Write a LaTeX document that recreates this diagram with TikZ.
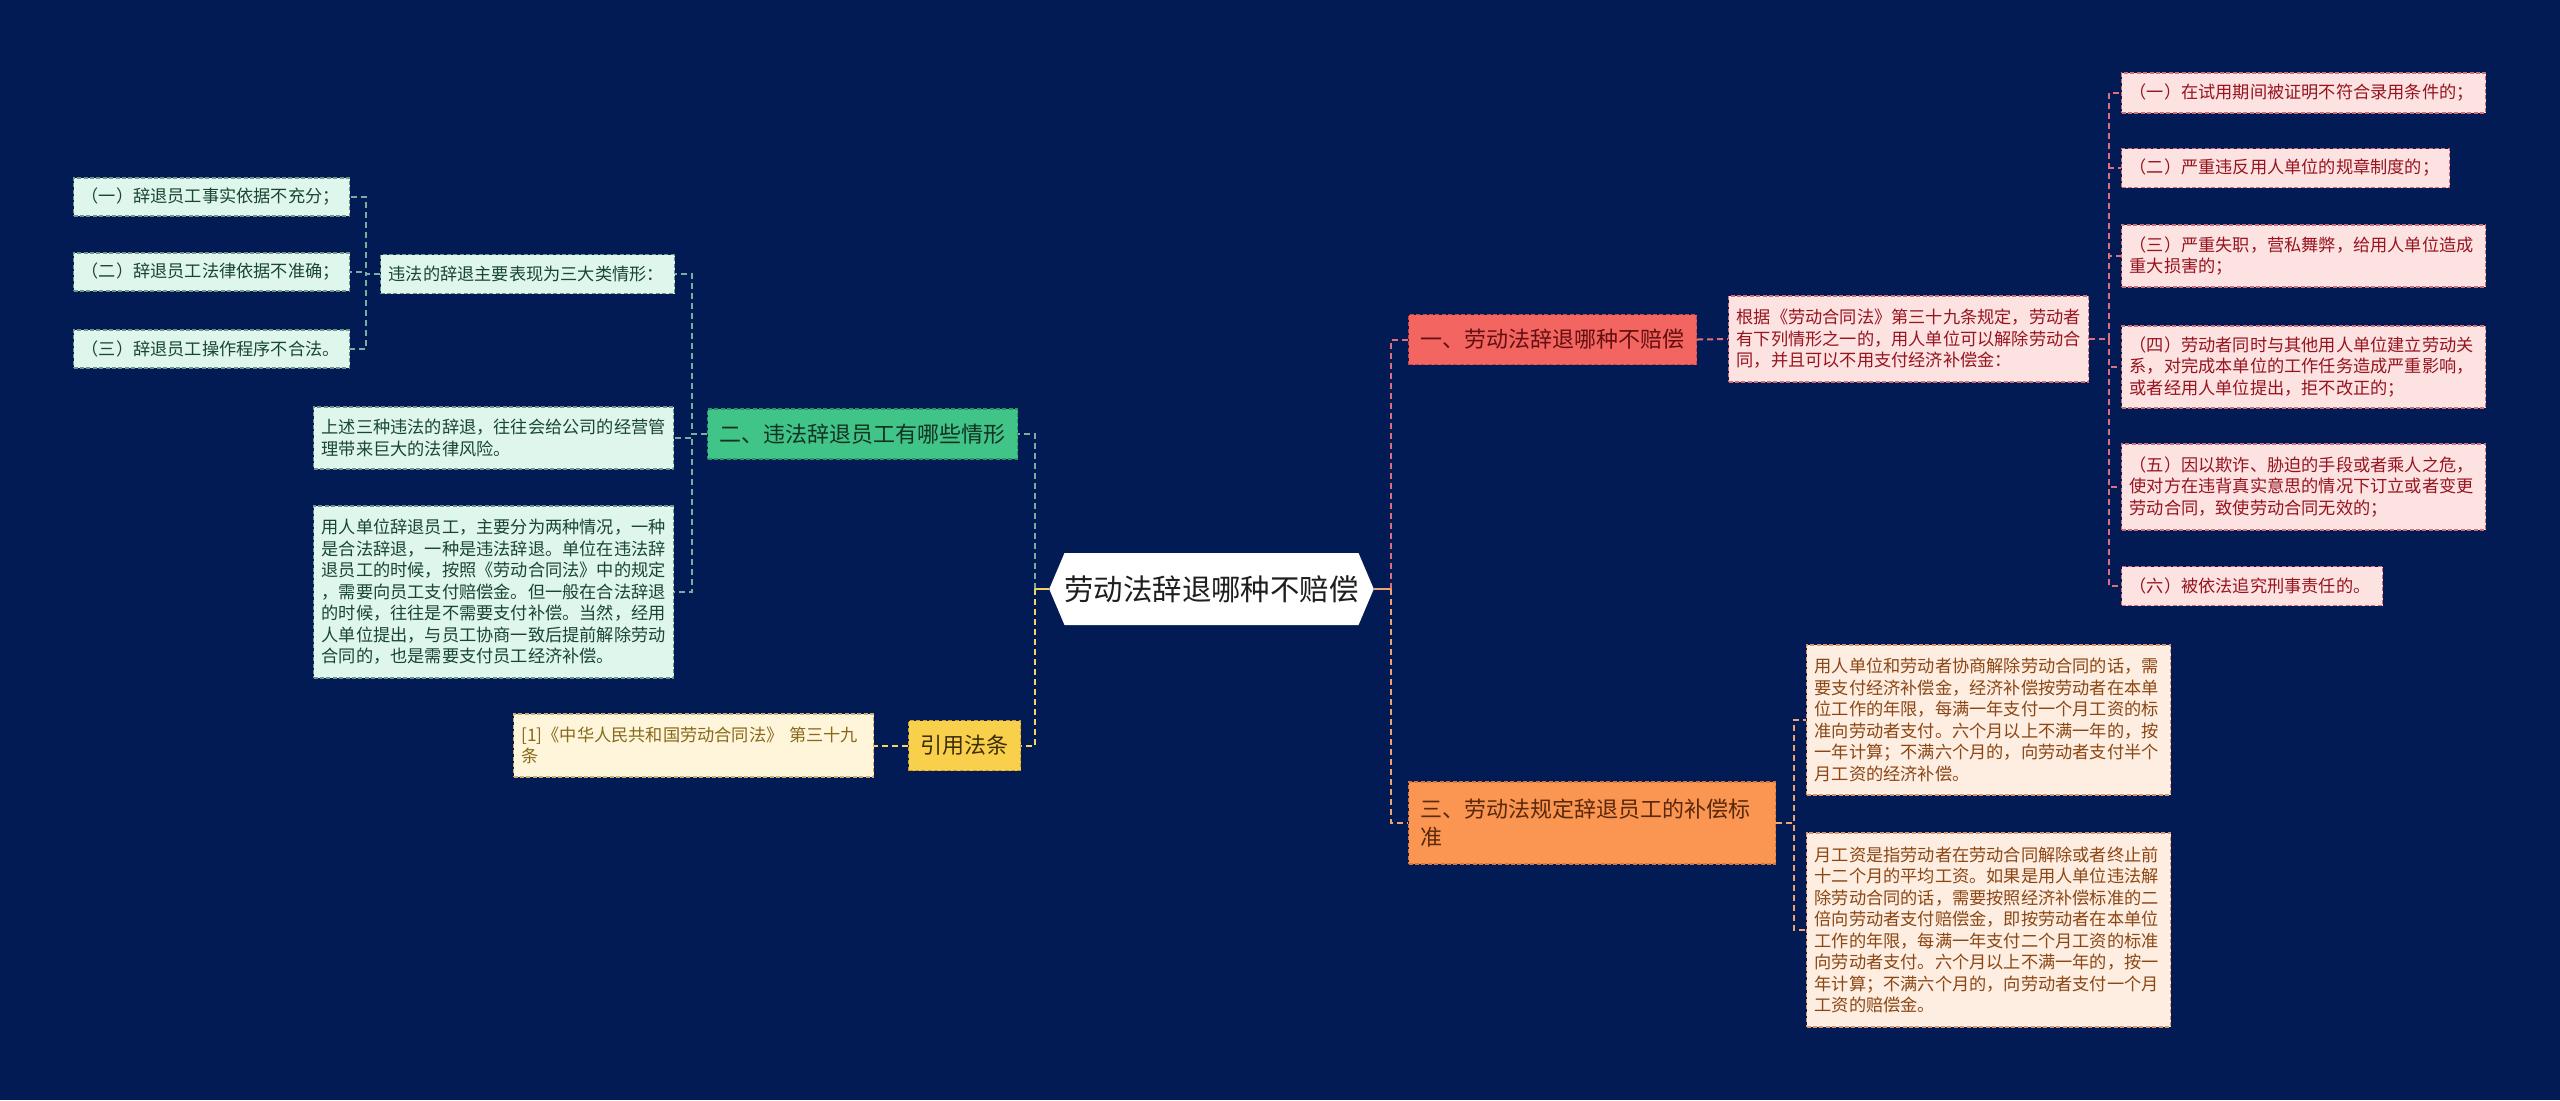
\documentclass[tikz,border=0pt]{standalone}
\usepackage{fontspec}
\setmainfont{Noto Sans CJK SC}
\usetikzlibrary{shapes.symbols}
\definecolor{bg}{RGB}{2,27,84}
\definecolor{mintfill}{RGB}{223,246,236}
\definecolor{mintborder}{RGB}{110,150,135}
\definecolor{minttext}{RGB}{25,70,50}
\definecolor{greenmain}{RGB}{64,196,136}
\definecolor{greenborder}{RGB}{40,150,100}
\definecolor{greentext}{RGB}{20,50,35}
\definecolor{greenline}{RGB}{120,175,158}
\definecolor{pinkfill}{RGB}{253,226,226}
\definecolor{pinktext}{RGB}{150,20,30}
\definecolor{pinkborder}{RGB}{210,110,120}
\definecolor{pinkline}{RGB}{225,110,125}
\definecolor{redmain}{RGB}{243,101,97}
\definecolor{redborder}{RGB}{200,70,70}
\definecolor{redtext}{RGB}{100,15,15}
\definecolor{orangemain}{RGB}{250,150,82}
\definecolor{orangeborder}{RGB}{210,120,60}
\definecolor{orangetext}{RGB}{90,40,10}
\definecolor{peachfill}{RGB}{253,238,225}
\definecolor{peachborder}{RGB}{215,150,110}
\definecolor{peachtext}{RGB}{140,70,20}
\definecolor{peachline}{RGB}{240,165,110}
\definecolor{yellowmain}{RGB}{248,208,75}
\definecolor{yellowborder}{RGB}{200,160,40}
\definecolor{yellowtext}{RGB}{60,45,10}
\definecolor{creamfill}{RGB}{254,245,218}
\definecolor{creamborder}{RGB}{200,175,110}
\definecolor{creamtext}{RGB}{135,105,25}
\definecolor{yellowline}{RGB}{245,212,100}
\definecolor{centertext}{RGB}{30,30,30}
\begin{document}
\begin{tikzpicture}[x=0.5pt,y=-0.5pt,
  dsh/.style={dash pattern=on 3pt off 2pt},
  bdsh/.style={dash pattern=on 2pt off 1.2pt},
  leaf/.style={draw, bdsh, line width=0.6pt, rectangle, anchor=west, align=left,
    inner xsep=4pt, inner ysep=2pt, font=\fontsize{8.6}{10.75}\selectfont},
  mintleaf/.style={leaf, fill=mintfill, draw=mintborder, text=minttext},
  pinkleaf/.style={leaf, fill=pinkfill, draw=pinkborder, text=pinktext},
  peachleaf/.style={leaf, fill=peachfill, draw=peachborder, text=peachtext},
  creamleaf/.style={leaf, fill=creamfill, draw=creamborder, text=creamtext},
  mainbox/.style={draw, bdsh, line width=0.6pt, rectangle, anchor=west, align=left,
    inner xsep=6pt, inner ysep=2pt, minimum height=25pt, font=\fontsize{11}{14}\selectfont},
  conn/.style={line width=1pt, dsh},
]
\fill[bg] (0,0) rectangle (2560,1100);
\useasboundingbox (0,0) rectangle (2560,1100);

% center
\node[signal, signal to=west and east, signal pointer angle=134, fill=white,
  minimum width=161.5pt, minimum height=36pt, inner xsep=0pt,
  text=centertext, font=\fontsize{14.7}{17}\selectfont] (C) at (1211.5,589) {劳动法辞退哪种不赔偿};

% left branch: green
\node[mainbox, fill=greenmain, draw=greenborder, text=greentext] (G) at (707,434) {二、违法辞退员工有哪些情形};
\node[mintleaf, text width=139pt, minimum height=19.5pt] (S) at (380,274) {违法的辞退主要表现为三大类情形：};
\node[mintleaf, text width=130pt, minimum height=19pt] (L1) at (73,197) {（一）辞退员工事实依据不充分；};
\node[mintleaf, text width=130pt, minimum height=19pt] (L2) at (73,272) {（二）辞退员工法律依据不准确；};
\node[mintleaf, text width=130pt, minimum height=19pt] (L3) at (73,349) {（三）辞退员工操作程序不合法。};
\node[mintleaf, text width=172pt, minimum height=31pt] (U) at (313,438) {上述三种违法的辞退，往往会给公司的经营管\\理带来巨大的法律风险。};
\node[mintleaf, text width=172pt, minimum height=86pt] (Y) at (313,592) {用人单位辞退员工，主要分为两种情况，一种\\是合法辞退，一种是违法辞退。单位在违法辞\\退员工的时候，按照《劳动合同法》中的规定\\，需要向员工支付赔偿金。但一般在合法辞退\\的时候，往往是不需要支付补偿。当然，经用\\人单位提出，与员工协商一致后提前解除劳动\\合同的，也是需要支付员工经济补偿。};

% left branch: yellow
\node[mainbox, fill=yellowmain, draw=yellowborder, text=yellowtext] (Q) at (908,745.5) {引用法条};
\node[creamleaf, text width=172pt, minimum height=31.5pt] (F) at (513,745.5) {[1]《中华人民共和国劳动合同法》 第三十九\\条};

% right branch: red
\node[mainbox, fill=redmain, draw=redborder, text=redtext] (R) at (1408,339.5) {一、劳动法辞退哪种不赔偿};
\node[pinkleaf, text width=172pt, minimum height=43pt] (K) at (1728,339) {根据《劳动合同法》第三十九条规定，劳动者\\有下列情形之一的，用人单位可以解除劳动合\\同，并且可以不用支付经济补偿金：};
\node[pinkleaf, text width=174pt, minimum height=20pt] (P1) at (2121,93) {（一）在试用期间被证明不符合录用条件的；};
\node[pinkleaf, text width=156pt, minimum height=19.5pt] (P2) at (2121,168) {（二）严重违反用人单位的规章制度的；};
\node[pinkleaf, text width=174pt, minimum height=31pt] (P3) at (2121,256) {（三）严重失职，营私舞弊，给用人单位造成\\重大损害的；};
\node[pinkleaf, text width=174pt, minimum height=41pt] (P4) at (2121,367) {（四）劳动者同时与其他用人单位建立劳动关\\系，对完成本单位的工作任务造成严重影响，\\或者经用人单位提出，拒不改正的；};
\node[pinkleaf, text width=174pt, minimum height=43pt] (P5) at (2121,487) {（五）因以欺诈、胁迫的手段或者乘人之危，\\使对方在违背真实意思的情况下订立或者变更\\劳动合同，致使劳动合同无效的；};
\node[pinkleaf, text width=122.5pt, minimum height=19.5pt] (P6) at (2121,586) {（六）被依法追究刑事责任的。};

% right branch: orange
\node[mainbox, fill=orangemain, draw=orangeborder, text=orangetext, text width=171.5pt, minimum height=41pt] (O) at (1408,823) {三、劳动法规定辞退员工的补偿标\\准};
\node[peachleaf, text width=174pt, minimum height=75pt] (A) at (1806,720) {用人单位和劳动者协商解除劳动合同的话，需\\要支付经济补偿金，经济补偿按劳动者在本单\\位工作的年限，每满一年支付一个月工资的标\\准向劳动者支付。六个月以上不满一年的，按\\一年计算；不满六个月的，向劳动者支付半个\\月工资的经济补偿。};
\node[peachleaf, text width=174pt, minimum height=97pt] (B) at (1806,930) {月工资是指劳动者在劳动合同解除或者终止前\\十二个月的平均工资。如果是用人单位违法解\\除劳动合同的话，需要按照经济补偿标准的二\\倍向劳动者支付赔偿金，即按劳动者在本单位\\工作的年限，每满一年支付二个月工资的标准\\向劳动者支付。六个月以上不满一年的，按一\\年计算；不满六个月的，向劳动者支付一个月\\工资的赔偿金。};

% connectors from center
\coordinate (cR) at (1391,589);
\coordinate (cL) at (1035,589);
\draw[conn, pinkline] (cR) |- (R.west);
\draw[conn, peachline] (cR) |- (O.west);
\draw[line width=1pt, peachline] (C.east) -- (cR);
\draw[conn, greenline] (cL) |- (G.east);
\draw[conn, yellowline] (cL) |- (Q.east);
\draw[line width=1pt, yellowline] (C.west) -- (cL);

% green branch
\draw[conn, greenline] (G.west) -- ++(-15,0) |- (S.east);
\draw[conn, greenline] (G.west) -- ++(-15,0) |- (U.east);
\draw[conn, greenline] (G.west) -- ++(-15,0) |- (Y.east);
\draw[conn, greenline] (S.west) -- ++(-14,0) |- (L1.east);
\draw[conn, greenline] (S.west) -- ++(-14,0) |- (L2.east);
\draw[conn, greenline] (S.west) -- ++(-14,0) |- (L3.east);

% yellow branch
\draw[conn, yellowline] (Q.west) -- (F.east);

% red branch
\draw[conn, pinkline] (R.east) -- (K.west);
\foreach \p in {P1,P2,P3,P4,P5,P6}
  \draw[conn, pinkline] (K.east) -- ++(20,0) |- (\p.west);

% orange branch
\draw[conn, peachline] (O.east) -- ++(18,0) |- (A.west);
\draw[conn, peachline] (O.east) -- ++(18,0) |- (B.west);
\end{tikzpicture}
\end{document}
